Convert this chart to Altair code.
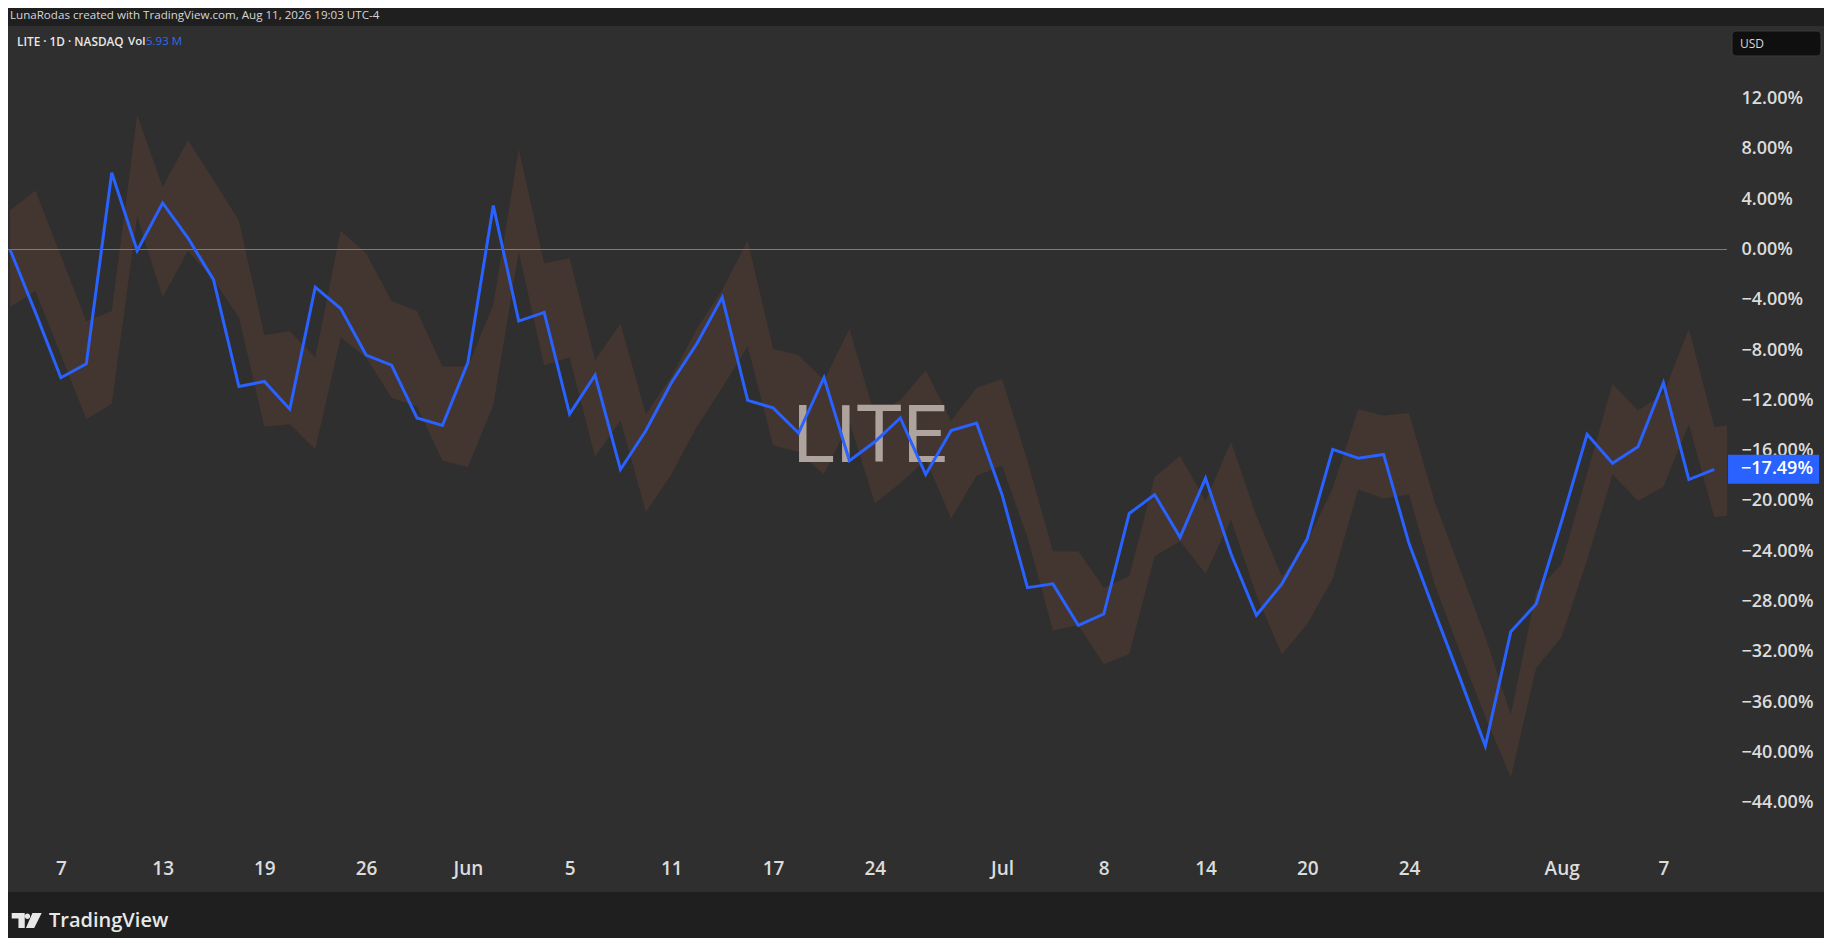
import altair as alt
import pandas as pd

# ---------------- data ----------------
dates = (
    ["2026-05-%02d" % d for d in [5, 6, 7, 8, 11, 12, 13, 14, 15, 18, 19, 20, 21, 22, 26, 27, 28, 29]]
    + ["2026-06-%02d" % d for d in [1, 2, 3, 4, 5, 8, 9, 10, 11, 12, 15, 16, 17, 18, 22, 23, 24, 25, 26, 29, 30]]
    + ["2026-07-%02d" % d for d in [1, 2, 6, 7, 8, 9, 10, 13, 14, 15, 16, 17, 20, 21, 22, 23, 24, 27, 28, 29, 30, 31]]
    + ["2026-08-%02d" % d for d in [3, 4, 5, 6, 7, 10, 11]]
)

# blue comparison line, % change
lite_pct = [0.0, -5.0, -10.2, -9.1, 6.1, -0.1, 3.7, 0.9, -2.4, -10.9,
            -10.5, -12.7, -3.0, -4.7, -8.4, -9.2, -13.4, -14.0, -9.0, 3.5,
            -5.7, -5.0, -13.1, -10.0, -17.5, -14.4, -10.6, -7.5, -3.8, -12.0,
            -12.6, -14.6, -10.2, -16.8, -15.3, -13.4, -17.9, -14.4, -13.8, -19.5,
            -26.9, -26.6, -29.9, -29.0, -21.0, -19.5, -22.9, -18.2, -24.2, -29.1,
            -26.6, -23.0, -15.9, -16.6, -16.3, -23.4, -28.8, -34.1, -39.5, -30.4,
            -28.2, -21.6, -14.7, -17.0, -15.7, -10.6, -18.3, -17.49]

# brown band: upper / lower edge per bar (one bar beyond the last date)
band_upper = [3.1, 4.7, -0.5, -5.7, -4.9, 10.7, 5.0, 8.7, 5.5, 2.3,
              -6.8, -6.5, -8.6, 1.5, -0.3, -4.1, -4.9, -9.3, -9.3, -4.4,
              8.0, -1.1, -0.7, -8.8, -5.9, -13.1, -10.1, -6.3, -3.2, 0.7,
              -7.9, -8.4, -10.4, -6.3, -13.2, -12.0, -9.6, -13.6, -11.0, -10.3,
              -16.8, -24.0, -24.0, -26.9, -26.0, -18.1, -16.4, -20.0, -15.3, -21.2,
              -26.0, -23.2, -19.0, -12.7, -13.2, -13.0, -20.0, -25.4, -30.8, -37.0,
              -27.2, -25.0, -17.8, -10.7, -12.8, -11.5, -6.3, -14.1, -13.9]
band_lower = [-4.6, -3.3, -8.4, -13.5, -12.3, 2.6, -3.8, -0.1, -2.4, -5.4,
              -14.1, -13.9, -15.9, -7.0, -8.6, -11.8, -12.5, -16.8, -17.3, -12.4,
              -0.2, -9.2, -8.6, -16.5, -13.6, -20.9, -17.9, -14.1, -11.0, -7.7,
              -15.6, -16.1, -17.9, -13.7, -20.2, -18.6, -16.7, -21.4, -18.0, -17.2,
              -22.9, -30.3, -29.9, -33.0, -32.2, -24.4, -23.2, -25.8, -21.5, -27.5,
              -32.2, -29.8, -26.2, -19.1, -19.8, -19.5, -26.6, -32.0, -37.2, -42.0,
              -33.3, -30.8, -24.7, -17.9, -20.0, -18.9, -13.9, -21.3, -21.1]

tick_dates = ["2026-05-07", "2026-05-13", "2026-05-19", "2026-05-26", "2026-06-01",
              "2026-06-05", "2026-06-11", "2026-06-17", "2026-06-24", "2026-07-01",
              "2026-07-08", "2026-07-14", "2026-07-20", "2026-07-24", "2026-08-03",
              "2026-08-07"]
tick_text = ["7", "13", "19", "26", "Jun", "5", "11", "17", "24", "Jul",
             "8", "14", "20", "24", "Aug", "7"]
y_ticks = [12, 8, 4, 0, -4, -8, -12, -16, -20, -24, -28, -32, -36, -40, -44]

caption = "LunaRodas created with TradingView.com, Aug 11, 2026 19:03 UTC-4"
legend_main = "LITE · 1D · NASDAQ"
legend_vol_label = "Vol"
legend_vol = "5.93 M"
watermark = "LITE"
currency = "USD"
brand = "TradingView"

# ---------------- styling ----------------
PANEL = "#2f2f2f"
OUTER = "#1f1f1f"
BLUE = "#2962ff"
BAND = "#43352f"
TXT = "#dcdcdc"
FONT = "Open Sans"

W, H = 1719, 826
X_DOMAIN = [-0.0786, 67.5]
Y_DOMAIN = [-47.93, 17.78]

tick_index = [dates.index(d) for d in tick_dates]
last_value = lite_pct[-1]

line_df = pd.DataFrame({"i": list(range(len(lite_pct))), "date": dates, "pct": lite_pct})
band_df = pd.DataFrame({"i": list(range(len(band_upper))), "hi": band_upper, "lo": band_lower})

x_label_expr = "[" + ",".join("'%s'" % t for t in tick_text) + "][indexof([" + \
    ",".join(str(v) for v in tick_index) + "], datum.value)]"
y_label_expr = "(datum.value < 0 ? '\u2212' : '') + format(abs(datum.value), '.2f') + '%'"

xs = alt.Scale(domain=X_DOMAIN, nice=False, zero=False)
ys = alt.Scale(domain=Y_DOMAIN, nice=False, zero=False)

x_axis = alt.Axis(values=tick_index, labelExpr=x_label_expr, title=None, grid=False,
                  ticks=False, tickSize=0, domain=False, labelPadding=16,
                  labelBaseline="middle", labelAlign="center", labelFontSize=19,
                  labelFont=FONT, labelFontWeight=600, labelColor=TXT,
                  labelFlush=False, labelOverlap=False)
y_axis = alt.Axis(orient="right", values=y_ticks, labelExpr=y_label_expr, title=None,
                  grid=False, ticks=False, tickSize=0, domain=False, labelPadding=14,
                  labelAlign="left", labelBaseline="middle", labelFontSize=18,
                  labelFont=FONT, labelFontWeight=600, labelColor=TXT,
                  labelFlush=False, labelOverlap=False, labelBound=False)

band = alt.Chart(band_df).mark_area(color=BAND, clip=True).encode(
    x=alt.X("i:Q", scale=xs, axis=x_axis),
    y=alt.Y("hi:Q", scale=ys, axis=y_axis),
    y2="lo:Q",
)

zero_rule = alt.Chart(line_df).mark_rule(color="#7d7d7d", strokeWidth=1).encode(
    x=alt.XDatum(X_DOMAIN[0], title=None),
    x2=alt.X2Datum(X_DOMAIN[1]),
    y=alt.YDatum(0, title=None),
)

one = pd.DataFrame({"k": [0]})

wm = alt.Chart(one).mark_text(text=watermark, font="Roboto", fontSize=79, color="#aea39d",
                              align="center", baseline="middle").encode(
    x=alt.value(862), y=alt.value(412))

line = alt.Chart(line_df).mark_line(color=BLUE, strokeWidth=3).encode(
    x=alt.X("i:Q", scale=xs), y=alt.Y("pct:Q", scale=ys))

last_box = alt.Chart(one).mark_rule(color=BLUE, strokeWidth=29, strokeCap="butt").encode(
    x=alt.XDatum(67.54, title=None), x2=alt.X2Datum(71.12),
    y=alt.YDatum(last_value, title=None))
last_txt = alt.Chart(one).mark_text(
    text="\u2212%.2f%%" % abs(last_value), font=FONT, fontSize=18, fontWeight=600,
    color="#ffffff", align="left", baseline="middle", dx=13).encode(
    x=alt.XDatum(67.54, title=None), y=alt.YDatum(last_value, title=None))

top_bar = alt.Chart(one).mark_rect(color=OUTER).encode(
    x=alt.value(0), x2=alt.value(1816), y=alt.value(-18), y2=alt.value(0))
bottom_bar = alt.Chart(one).mark_rect(color=OUTER).encode(
    x=alt.value(0), x2=alt.value(1816), y=alt.value(866), y2=alt.value(912))

cap_txt = alt.Chart(one).mark_text(text=caption, font=FONT, fontSize=11.6, color="#d6d6d6",
                                   align="left", baseline="middle").encode(
    x=alt.value(2), y=alt.value(-10))
leg_txt = alt.Chart(one).mark_text(text=legend_main, font=FONT, fontSize=11.8, fontWeight=600,
                                   color="#e8e8e8", align="left", baseline="middle").encode(
    x=alt.value(9), y=alt.value(16))
vol_lbl = alt.Chart(one).mark_text(text=legend_vol_label, font=FONT, fontSize=11.5, fontWeight=600,
                                   color="#e8e8e8", align="left", baseline="middle").encode(
    x=alt.value(120), y=alt.value(16))
vol_txt = alt.Chart(one).mark_text(text=legend_vol, font=FONT, fontSize=11.5, color="#2f6bf0",
                                   align="left", baseline="middle").encode(
    x=alt.value(138), y=alt.value(16))

usd_box = alt.Chart(one).mark_rect(color="#0f0f0f", cornerRadius=4, stroke="#3a3a3a",
                                   strokeWidth=1).encode(
    x=alt.value(1724), x2=alt.value(1813), y=alt.value(5), y2=alt.value(30))
usd_txt = alt.Chart(one).mark_text(text=currency, font=FONT, fontSize=12, color="#d8d8d8",
                                   align="left", baseline="middle").encode(
    x=alt.value(1732), y=alt.value(18))

# TradingView mark drawn as a symbol path
logo_path = ("M-1,-0.5 L-0.13,-0.5 L-0.13,0.5 L-0.55,0.5 L-0.55,-0.13 L-1,-0.13 Z "
             "M-0.13,-0.28 A0.18,0.18 0 1,0 0.23,-0.28 A0.18,0.18 0 1,0 -0.13,-0.28 Z "
             "M0.38,-0.5 L1,-0.5 L0.5,0.5 L-0.05,0.5 Z")
logo = alt.Chart(one).mark_point(shape=logo_path, size=900, filled=True, opacity=1,
                                 color="#e8e8e8", strokeWidth=0).encode(
    x=alt.value(18.7), y=alt.value(894.5))
brand_txt = alt.Chart(one).mark_text(text=brand, font=FONT, fontSize=20, fontWeight=600,
                                     color="#e8e8e8", align="left", baseline="middle").encode(
    x=alt.value(41), y=alt.value(895))

chart = alt.layer(
    band, zero_rule, wm, line, last_box, last_txt,
    top_bar, bottom_bar, cap_txt, leg_txt, vol_lbl, vol_txt, usd_box, usd_txt, logo, brand_txt,
).properties(
    width=W, height=H,
    padding={"left": 0, "top": 18, "right": 97, "bottom": 86},
    autosize=alt.AutoSizeParams(type="none"),
    background=PANEL,
).configure_view(stroke=None, fill=PANEL)

chart.save("out.html", embed_options={"renderer": "svg", "actions": False})
